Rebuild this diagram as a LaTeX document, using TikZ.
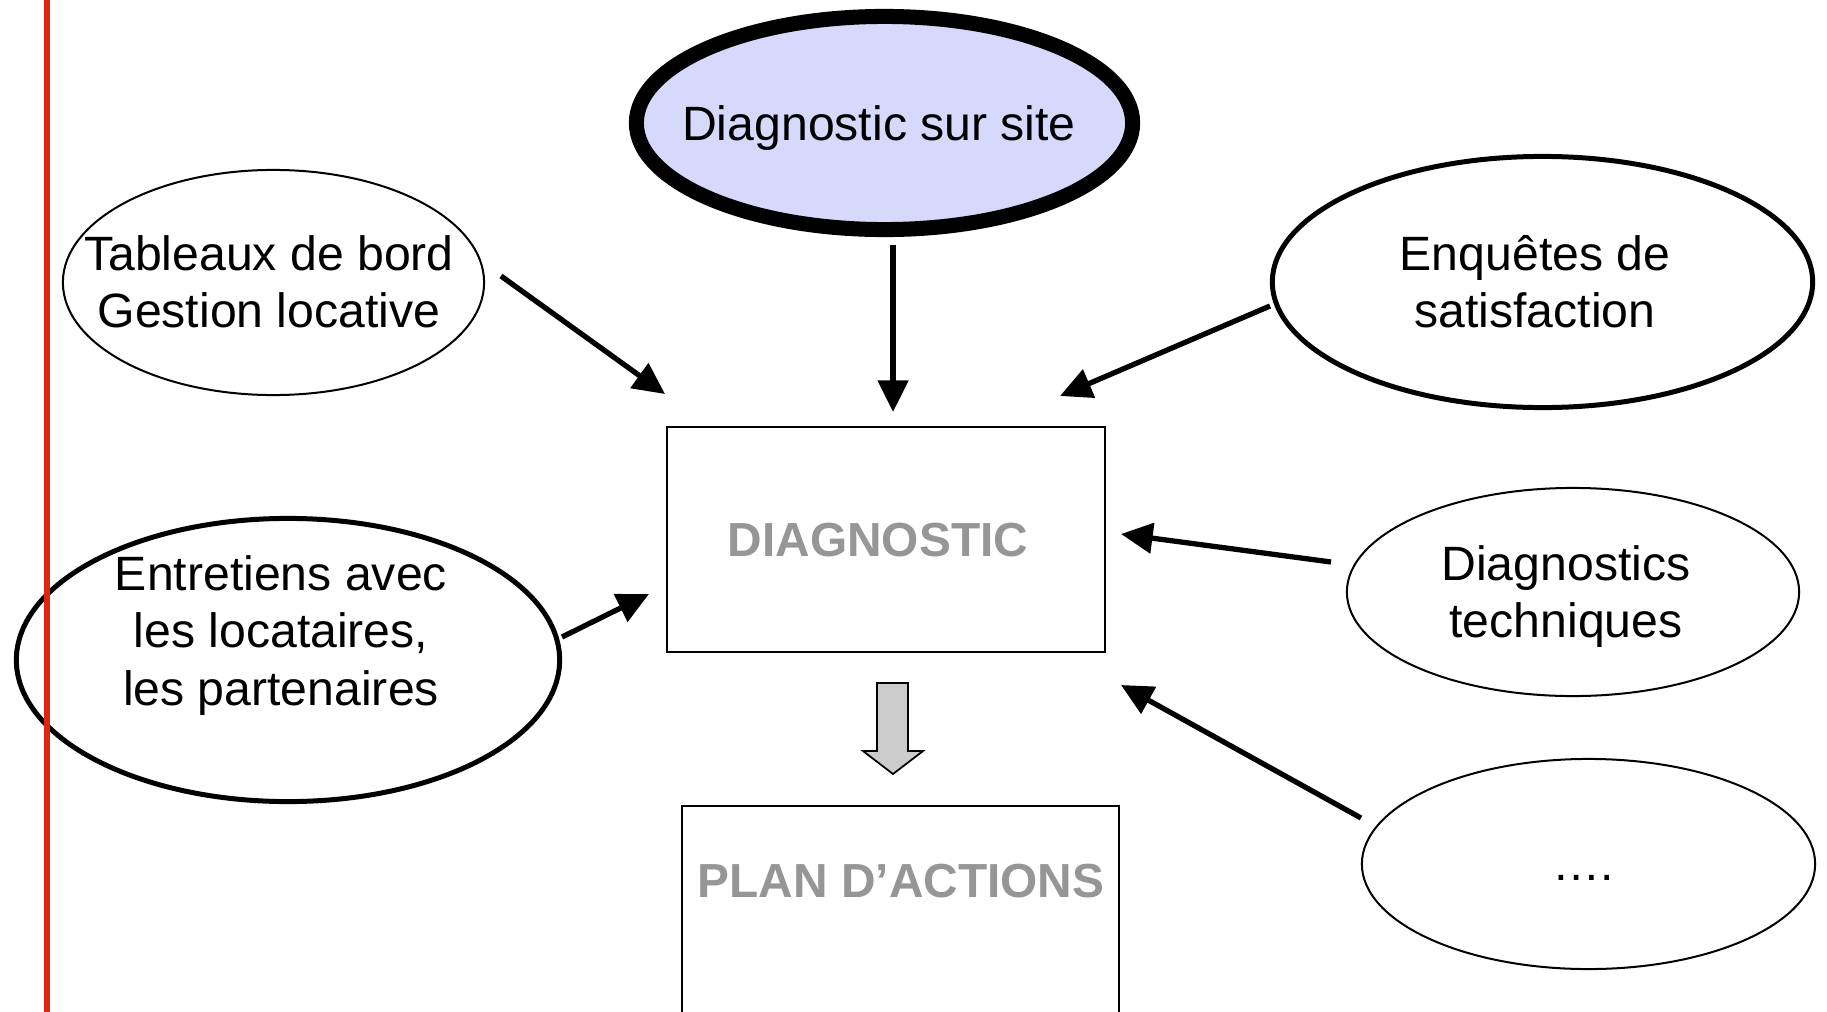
\documentclass[tikz,border=0pt]{standalone}
\usepackage{fontspec}
\setmainfont{Liberation Sans}
\usetikzlibrary{shapes.geometric,arrows.meta}
\definecolor{lav}{RGB}{214,216,252}
\definecolor{redline}{RGB}{220,38,18}
\definecolor{txtgray}{RGB}{150,150,150}
\definecolor{blockgray}{RGB}{204,204,204}
\newcommand\mylines[2]{{\fontsize{13.7}{#1}\selectfont\begin{tabular}[t]{@{}c@{}}#2\end{tabular}}}
\begin{document}
\begin{tikzpicture}[x=0.01cm, y=-0.01cm, font=\fontsize{13.7}{16.4}\selectfont,
  bubble/.style={ellipse, draw=black, fill=white, inner sep=0pt},
  thinb/.style={bubble, line width=0.57pt},
  thickb/.style={bubble, line width=1.42pt},
  boxnode/.style={rectangle, draw=black, fill=white, line width=0.57pt, inner sep=0pt},
  lbl/.style={anchor=base, inner sep=0pt},
  boxlbl/.style={lbl, text=txtgray, font=\fontsize{13.6}{16.4}\selectfont\bfseries},
  conn/.style={-{Triangle[length=9pt,width=8.5pt]}, line width=1.5pt}]
\clip (0,0) rectangle (1827,1012);
\fill[white] (0,0) rectangle (1827,1012);

% bubbles
\node[bubble, fill=lav, line width=4.27pt, minimum width=4.96cm, minimum height=2.13cm] (site) at (884.5,123) {};
\node[lbl] (siteT) at (879,140) {Diagnostic sur site};

\node[thinb, minimum width=4.21cm, minimum height=2.25cm] (tab) at (273.5,282.5) {};
\node[lbl] (tabT) at (269,270) {\mylines{16.3pt}{Tableaux de bord\\Gestion locative}};

\node[thickb, minimum width=5.40cm, minimum height=2.51cm] (enq) at (1542.5,282) {};
\node[lbl] (enqT) at (1535,270) {\mylines{16.3pt}{Enquêtes de\\satisfaction}};

\node[thickb, minimum width=5.43cm, minimum height=2.83cm] (ent) at (288,660) {};
\node[lbl] (entT) at (281,590) {\mylines{16.45pt}{Entretiens avec\\les locataires,\\les partenaires}};

\node[thinb, minimum width=4.52cm, minimum height=2.08cm] (tech) at (1573,592) {};
\node[lbl] (techT) at (1566,580) {\mylines{16.3pt}{Diagnostics\\techniques}};

\node[thinb, minimum width=4.53cm, minimum height=2.10cm] (etc) at (1588.5,864) {};
\node[lbl] (etcT) at (1583,880) {….};

% boxes
\node[boxnode, minimum width=4.38cm, minimum height=2.25cm] (diag) at (886,539.5) {};
\node[boxlbl] (diagT) at (878,556) {DIAGNOSTIC};
\node[boxnode, minimum width=4.37cm, minimum height=4cm, anchor=north] (plan) at (900.5,805) {};
\node[boxlbl] (planT) at (901,897) {PLAN D’ACTIONS};

% connector end points
\coordinate (tabS) at (501,276);   \coordinate (tabE) at (665,394);
\coordinate (siteS) at (893,245);  \coordinate (siteE) at (893,412);
\coordinate (enqS) at (1270,306);  \coordinate (enqE) at (1060,396);
\coordinate (entS) at (562,637);   \coordinate (entE) at (649,594);
\coordinate (techS) at (1331,562); \coordinate (techE) at (1121,534);
\coordinate (etcS) at (1361,818);  \coordinate (etcE) at (1121,685);

\draw[conn] (tabS) -- (tabE);
\draw[conn] (siteS) -- (siteE);
\draw[conn] (enqS) -- (enqE);
\draw[conn] (entS) -- (entE);
\draw[conn] (techS) -- (techE);
\draw[conn] (etcS) -- (etcE);

% block arrow diag -> plan
\draw[fill=blockgray, line width=0.5pt, line join=miter]
  (877,683) -- (908,683) -- (908,751) -- (923,751) -- (893,774) -- (863,751) -- (877,751) -- cycle;

% red margin line
\draw[redline, line width=1.7pt] (47,0) -- (47,1012);
\end{tikzpicture}
\end{document}
